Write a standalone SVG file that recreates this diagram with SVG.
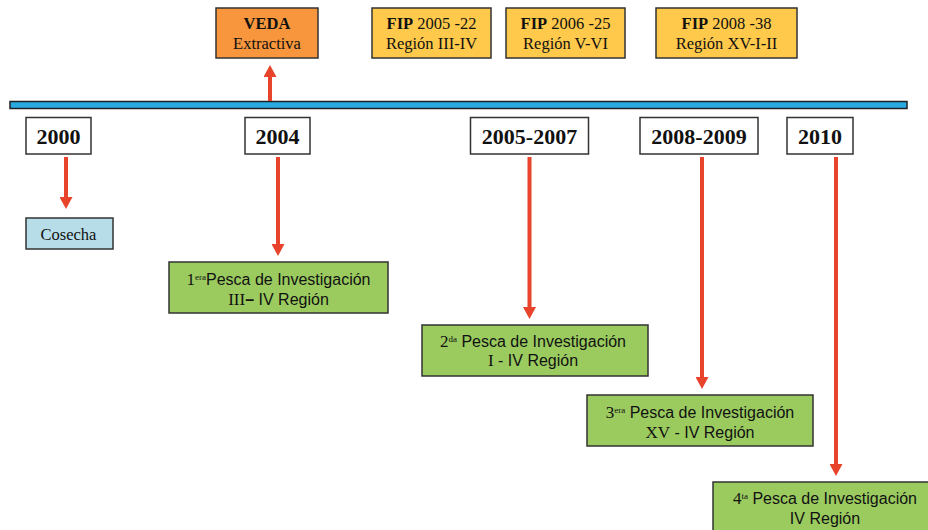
<svg xmlns="http://www.w3.org/2000/svg" width="928" height="530" viewBox="0 0 928 530">
<style>
.box{stroke:#333;stroke-width:1.5}
.yr{fill:#fff}
.yt{font-family:"Liberation Serif",serif;font-weight:bold;font-size:22px;fill:#111;text-anchor:middle}
.ft{font-family:"Liberation Serif",serif;font-size:16.5px;fill:#111;text-anchor:middle}
.st{font-family:"Liberation Sans",Arial,sans-serif;font-size:16px;fill:#111;text-anchor:middle}
.sr{font-family:"Liberation Serif",serif;font-size:17px}
.sup{font-family:"Liberation Serif",serif;font-size:9px}
.arr{stroke:#E8442B;stroke-width:4;fill:none}
</style>
<defs>
<marker id="ah" markerUnits="userSpaceOnUse" markerWidth="13" markerHeight="13" refX="1" refY="6.5" orient="auto">
<path d="M0,0 L12,6.5 L0,13 Z" fill="#E8442B"/>
</marker>
</defs>
<g id="timeline"><rect x="10" y="101.5" width="897" height="7" fill="#29ABE2" stroke="#222" stroke-width="1.5"/></g>
<g id="connectors">
<line class="arr" x1="270" y1="101" x2="270" y2="76" marker-end="url(#ah)"/>
<line class="arr" x1="66" y1="157" x2="66" y2="198" marker-end="url(#ah)"/>
<line class="arr" x1="278" y1="157" x2="278" y2="245" marker-end="url(#ah)"/>
<line class="arr" x1="529.5" y1="157" x2="529.5" y2="308" marker-end="url(#ah)"/>
<line class="arr" x1="702" y1="157" x2="702" y2="378" marker-end="url(#ah)"/>
<line class="arr" x1="836" y1="157" x2="836" y2="465" marker-end="url(#ah)"/>
</g>
<g id="veda"><rect class="box" x="216" y="8" width="102" height="50" fill="#F7963C"/>
<text class="ft" x="267" y="29" font-weight="bold">VEDA</text><text class="ft" x="267" y="49">Extractiva</text></g>
<g id="fip1"><rect class="box" x="372" y="8" width="119" height="50" fill="#FFC94B"/>
<text class="ft" x="431.5" y="29"><tspan font-weight="bold">FIP</tspan> 2005 -22</text><text class="ft" x="431.5" y="49">Región III-IV</text></g>
<g id="fip2"><rect class="box" x="506" y="8" width="119" height="50" fill="#FFC94B"/>
<text class="ft" x="565.5" y="29"><tspan font-weight="bold">FIP</tspan> 2006 -25</text><text class="ft" x="565.5" y="49">Región V-VI</text></g>
<g id="fip3"><rect class="box" x="656" y="8" width="141" height="50" fill="#FFC94B"/>
<text class="ft" x="726.5" y="29"><tspan font-weight="bold">FIP</tspan> 2008 -38</text><text class="ft" x="726.5" y="49">Región XV-I-II</text></g>
<g id="y2000"><rect class="box yr" x="26" y="117.5" width="65" height="36.5"/><text class="yt" x="58.5" y="144">2000</text></g>
<g id="y2004"><rect class="box yr" x="245" y="117.5" width="65" height="36.5"/><text class="yt" x="277.5" y="144">2004</text></g>
<g id="y2005"><rect class="box yr" x="470.5" y="117.5" width="118" height="36.5"/><text class="yt" x="529.5" y="144">2005-2007</text></g>
<g id="y2008"><rect class="box yr" x="640" y="117.5" width="118" height="36.5"/><text class="yt" x="699" y="144">2008-2009</text></g>
<g id="y2010"><rect class="box yr" x="787" y="117.5" width="66" height="36.5"/><text class="yt" x="820" y="144">2010</text></g>
<g id="cosecha"><rect class="box" x="26" y="218" width="87" height="31" fill="#B7DEE8"/>
<text class="ft" x="68.5" y="240" font-size="18">Cosecha</text></g>
<g id="pesca1"><rect class="box" x="169" y="262" width="219" height="51" fill="#9BCB5F"/>
<text class="st" x="278.5" y="285"><tspan class="sr">1</tspan><tspan class="sup" dy="-5">era</tspan><tspan dy="5">Pesca de Investigación</tspan></text>
<text class="st" x="278.5" y="305"><tspan class="sr">III</tspan><tspan font-weight="bold">–</tspan> IV Región</text></g>
<g id="pesca2"><rect class="box" x="422" y="325" width="226" height="51" fill="#9BCB5F"/>
<text class="st" x="533" y="347"><tspan class="sr">2</tspan><tspan class="sup" dy="-5">da</tspan><tspan dy="5"> Pesca de Investigación</tspan></text>
<text class="st" x="533" y="366"><tspan class="sr">I</tspan> - IV Región</text></g>
<g id="pesca3"><rect class="box" x="587" y="395" width="226" height="51" fill="#9BCB5F"/>
<text class="st" x="700" y="418"><tspan class="sr">3</tspan><tspan class="sup" dy="-5">era</tspan><tspan dy="5"> Pesca de Investigación</tspan></text>
<text class="st" x="700" y="438"><tspan class="sr">XV</tspan> - IV Región</text></g>
<g id="pesca4"><rect class="box" x="713" y="482" width="226" height="60" fill="#9BCB5F"/>
<text class="st" x="825" y="504"><tspan class="sr">4</tspan><tspan class="sup" dy="-5">ta</tspan><tspan dy="5"> Pesca de Investigación</tspan></text>
<text class="st" x="825" y="524">IV Región</text></g>
</svg>
